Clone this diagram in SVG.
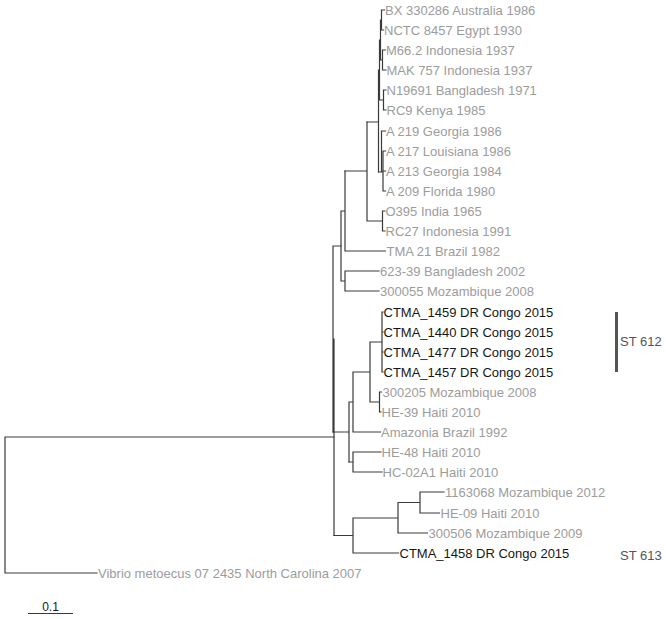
<svg xmlns="http://www.w3.org/2000/svg" width="666" height="619" viewBox="0 0 666 619">
<style>
text{font-family:"Liberation Sans",Arial,Helvetica,sans-serif;font-size:13px}
.g{fill:#9c9c9c}
.k{fill:#161616}
.st{fill:#555555}
.e{fill:none;stroke:#3a3a3a;stroke-width:1.2;stroke-linecap:square}
</style>
<rect width="666" height="619" fill="#ffffff"/>
<g id="connectors" class="e">
<path class="e" d="M5 437V573M5 437H334M5 573H97"/>
<path class="e" d="M334 339V535.5M333 246V432M333 246H341"/>
<path class="e" d="M341 211V281M341 211H345M345 171V251M345 251H385.5M341 281H345M345 271V291M345 271H379M345 291H379"/>
<path class="e" d="M345 171H367M367 122V221M367 221H382.5M382.5 211V231M382.5 211H385M382.5 231H385"/>
<path class="e" d="M367 122H378.5M378.5 70V172M378.5 70H379.5M379.5 40V100M379.5 40H380.5M380.5 20V60M380.5 20H381.5M381.5 10V30M381.5 10H384.5M381.5 30H383.5M380.5 60H382.5M382.5 50V70M382.5 50H385.5M382.5 70H386M379.5 100H383.5M383.5 90V110M383.5 90H386M383.5 110H386"/>
<path class="e" d="M378.5 172H381.5M381.5 131V172M381.5 131H385.5M381.5 172H383M383 151V191M383 151H385.5M383 171H385.5M383 191H385.5"/>
<path class="e" d="M333 432H349M349 402V462M349 402H353M353 372V432M353 432H380.5M353 372H370M370 342V402M370 342H382M382 312V372M382 312H383M382 332H383M382 352H383M382 372H383M370 402H379.5M379.5 392V412M379.5 392H381.5M379.5 412H381"/>
<path class="e" d="M349 462H353M353 452V472M353 452H381M353 472H382"/>
<path class="e" d="M334 535.5H353M353 518V553M353 518H398M398 502.5V533M398 502.5H420M420 492V513M420 492H444M420 513H439.5M398 533H427.5M353 553H398.5"/>
</g>
<g id="tip-bx330286"><text class="g" x="385" y="14.5">BX 330286 Australia 1986</text></g>
<g id="tip-nctc8457"><text class="g" x="384" y="34.5">NCTC 8457 Egypt 1930</text></g>
<g id="tip-m66-2"><text class="g" x="386" y="54.5">M66.2 Indonesia 1937</text></g>
<g id="tip-mak757"><text class="g" x="386.5" y="74.5">MAK 757 Indonesia 1937</text></g>
<g id="tip-n19691"><text class="g" x="386.5" y="94.5">N19691 Bangladesh 1971</text></g>
<g id="tip-rc9"><text class="g" x="386.5" y="114.5">RC9 Kenya 1985</text></g>
<g id="tip-a219"><text class="g" x="386" y="135.5">A 219 Georgia 1986</text></g>
<g id="tip-a217"><text class="g" x="386" y="155.5">A 217 Louisiana 1986</text></g>
<g id="tip-a213"><text class="g" x="386" y="175.5">A 213 Georgia 1984</text></g>
<g id="tip-a209"><text class="g" x="386" y="195.5">A 209 Florida 1980</text></g>
<g id="tip-o395"><text class="g" x="385.5" y="215.5">O395 India 1965</text></g>
<g id="tip-rc27"><text class="g" x="385.5" y="235.5">RC27 Indonesia 1991</text></g>
<g id="tip-tma21"><text class="g" x="386.5" y="255.5">TMA 21 Brazil 1982</text></g>
<g id="tip-623-39"><text class="g" x="380" y="275.5">623-39 Bangladesh 2002</text></g>
<g id="tip-300055"><text class="g" x="380" y="295.5">300055 Mozambique 2008</text></g>
<g id="tip-ctma1459"><text class="k" x="383.5" y="316.5">CTMA_1459 DR Congo 2015</text></g>
<g id="tip-ctma1440"><text class="k" x="383.5" y="336.5">CTMA_1440 DR Congo 2015</text></g>
<g id="tip-ctma1477"><text class="k" x="383.5" y="356.5">CTMA_1477 DR Congo 2015</text></g>
<g id="tip-ctma1457"><text class="k" x="383.5" y="376.5">CTMA_1457 DR Congo 2015</text></g>
<g id="tip-300205"><text class="g" x="382.5" y="396.5">300205 Mozambique 2008</text></g>
<g id="tip-he39"><text class="g" x="381.5" y="416.5">HE-39 Haiti 2010</text></g>
<g id="tip-amazonia"><text class="g" x="381" y="436.5">Amazonia Brazil 1992</text></g>
<g id="tip-he48"><text class="g" x="381.5" y="456.5">HE-48 Haiti 2010</text></g>
<g id="tip-hc02a1"><text class="g" x="382.5" y="476.5">HC-02A1 Haiti 2010</text></g>
<g id="tip-1163068"><text class="g" x="445" y="496.5">1163068 Mozambique 2012</text></g>
<g id="tip-he09"><text class="g" x="440.5" y="517.5">HE-09 Haiti 2010</text></g>
<g id="tip-300506"><text class="g" x="428.5" y="537.5">300506 Mozambique 2009</text></g>
<g id="tip-ctma1458"><text class="k" x="399.5" y="557.5">CTMA_1458 DR Congo 2015</text></g>
<g id="tip-vibrio"><text class="g" x="98" y="577.5">Vibrio metoecus 07 2435 North Carolina 2007</text></g>
<g id="st612"><rect x="615" y="312" width="3" height="60" fill="#555555"/><text class="st" x="620" y="346">ST 612</text></g>
<g id="st613"><text class="st" x="620" y="559.5">ST 613</text></g>
<g id="scale"><line x1="28" y1="613.5" x2="73" y2="613.5" stroke="#3a3a3a" stroke-width="1.2"/><text class="k" x="50.5" y="611" text-anchor="middle" style="font-size:12px">0.1</text></g>
</svg>
